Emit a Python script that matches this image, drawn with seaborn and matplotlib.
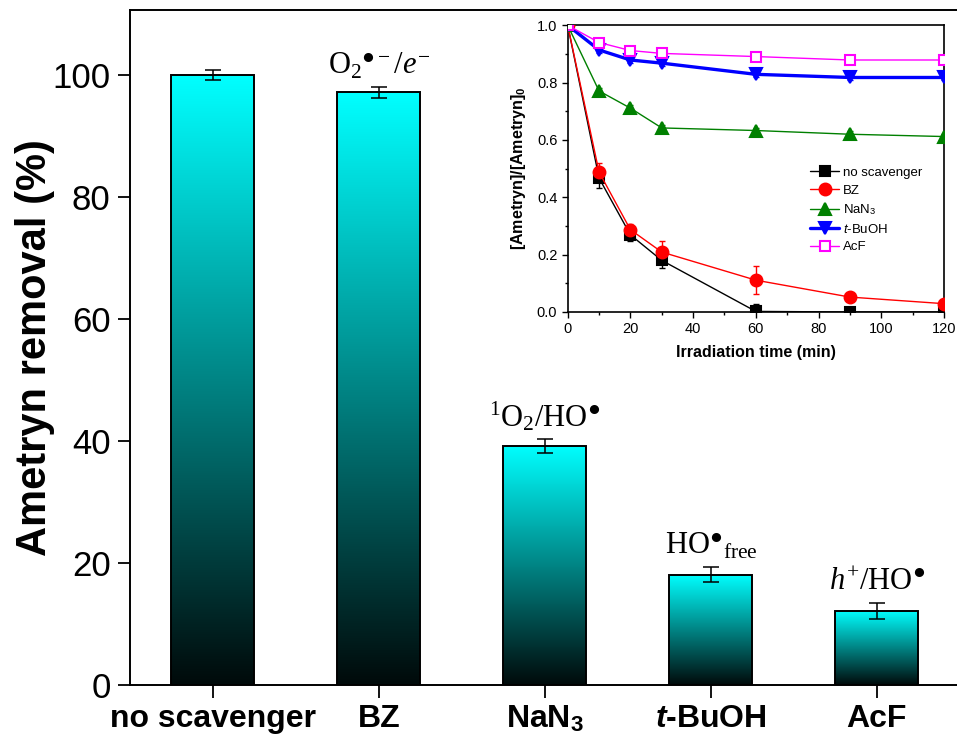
import numpy as np
import pandas as pd
import matplotlib
matplotlib.use("Agg")
import matplotlib.pyplot as plt
import seaborn as sns
from matplotlib.colors import LinearSegmentedColormap
from matplotlib.lines import Line2D
from matplotlib.ticker import MultipleLocator, FormatStrFormatter

# ---- main bar data: ametryn removal with each scavenger ----
categories = ["no scavenger", "BZ", "NaN3", "t-BuOH", "AcF"]
tick_labels = ["no scavenger", "BZ", r"NaN$_\mathbf{3}$", r"$\mathbfit{t}$-BuOH", "AcF"]
removal = [100.0, 97.2, 39.2, 18.1, 12.2]
removal_err = [0.8, 0.9, 1.2, 1.2, 1.3]
species = [
    None,
    r"O$_\mathrm{2}$$^\mathrm{●-}$/$e^{-}$",
    r"$^\mathrm{1}$O$_\mathrm{2}$/HO$^\mathrm{●}$",
    r"HO$^\mathrm{●}$$_\mathrm{free}$",
    r"$h^{+}$/HO$^\mathrm{●}$",
]

# ---- inset kinetics data ----
time_min = [0, 10, 20, 30, 60, 90, 120]
c_none = [1.0, 0.467, 0.269, 0.180, 0.002, 0.0, 0.0]
c_none_err = [0.0, 0.035, 0.02, 0.025, 0.025, 0.0, 0.0]
c_bz = [1.0, 0.488, 0.287, 0.209, 0.111, 0.052, 0.029]
c_bz_err = [0.0, 0.03, 0.02, 0.04, 0.05, 0.015, 0.01]
c_nan3 = [1.0, 0.771, 0.711, 0.642, 0.633, 0.620, 0.612]
c_nan3_err = [0.0, 0.01, 0.01, 0.01, 0.01, 0.01, 0.01]
c_tbuoh = [1.0, 0.914, 0.879, 0.868, 0.829, 0.818, 0.818]
c_tbuoh_err = [0.0, 0.01, 0.01, 0.01, 0.01, 0.01, 0.01]
c_acf = [1.0, 0.940, 0.912, 0.902, 0.891, 0.879, 0.879]
c_acf_err = [0.0, 0.01, 0.01, 0.01, 0.01, 0.01, 0.01]
legend_labels = ["no scavenger", "BZ", r"NaN$_\mathsf{3}$", r"$\mathcal{t}$-BuOH", "AcF"]

sns.set_theme(style="ticks")
plt.rcParams["font.family"] = ["Liberation Sans", "DejaVu Sans"]
plt.rcParams["text.color"] = "black"
plt.rcParams["axes.labelcolor"] = "black"
plt.rcParams["xtick.color"] = "black"
plt.rcParams["ytick.color"] = "black"
plt.rcParams["mathtext.fontset"] = "custom"
plt.rcParams["mathtext.rm"] = "Liberation Serif"
plt.rcParams["mathtext.it"] = "Liberation Serif:italic"
plt.rcParams["mathtext.bf"] = "Liberation Sans:bold"
plt.rcParams["mathtext.bfit"] = "Liberation Sans:bold:italic"
plt.rcParams["mathtext.sf"] = "Liberation Sans"
plt.rcParams["mathtext.cal"] = "Liberation Sans:italic"

fig = plt.figure(figsize=(9.57, 7.4), dpi=100)
ax = fig.add_axes([0.1358, 0.0743, 0.8672, 0.9122])

df = pd.DataFrame({"scavenger": categories, "removal": removal})
sns.barplot(data=df, x="scavenger", y="removal", color="#00ffff", width=0.5,
            edgecolor="black", linewidth=1.4, errorbar=None, ax=ax, zorder=2)

# vertical black-to-cyan gradient inside every bar
cmap = LinearSegmentedColormap.from_list("bar_grad", ["#000a0a", "#00ffff"])
grad = np.linspace(0, 1, 256).reshape(-1, 1)
for patch in ax.patches:
    x0, y0 = patch.get_x(), patch.get_y()
    w, h = patch.get_width(), patch.get_height()
    im = ax.imshow(grad, cmap=cmap, extent=[x0, x0 + w, y0, y0 + h],
                   origin="lower", aspect="auto", zorder=1.5)
    im.set_clip_path(patch)
    patch.set_facecolor("none")

ax.errorbar(range(len(categories)), removal, yerr=removal_err, fmt="none",
            ecolor="black", elinewidth=1.1, capsize=6, capthick=1.1, zorder=3)

for i, (val, err, lab) in enumerate(zip(removal, removal_err, species)):
    if lab is None:
        continue
    ax.annotate(lab, xy=(i, val + err), xytext=(0, 9), textcoords="offset points",
                ha="center", va="baseline", fontsize=22, family="Liberation Serif")

ax.set_xlim(-0.5, 4.5)
ax.set_ylim(0, 110.7)
ax.yaxis.set_major_locator(MultipleLocator(20))
ax.set_xticks(range(len(categories)))
ax.set_xticklabels(tick_labels, fontsize=23, fontweight="bold")
ax.tick_params(axis="y", labelsize=25, length=9, width=1.3, pad=5, direction="out")
ax.tick_params(axis="x", length=9, width=1.3, pad=5, direction="out")
ax.set_xlabel("")
ax.set_ylabel("Ametryn removal (%)", fontsize=30, fontweight="bold", labelpad=-2)
for side in ["left", "bottom", "top", "right"]:
    ax.spines[side].set_visible(True)
    ax.spines[side].set_linewidth(1.4)
    ax.spines[side].set_color("black")

# ---- inset: concentration decay over irradiation time ----
ins = fig.add_axes([0.5932, 0.5784, 0.3932, 0.3874])
series = [
    (c_none, c_none_err, "black", "s", 6.5, 1.0, "black"),
    (c_bz, c_bz_err, "red", "o", 8.5, 1.0, "red"),
    (c_nan3, c_nan3_err, "green", "^", 8.5, 1.0, "green"),
    (c_tbuoh, c_tbuoh_err, "blue", "v", 8.5, 2.4, "blue"),
    (c_acf, c_acf_err, "magenta", "s", 6.5, 1.0, "white"),
]
handles = []
for (vals, errs, col, mk, ms, lw, fc), lab in zip(series, legend_labels):
    sns.lineplot(x=time_min, y=vals, color=col, linewidth=lw, marker=mk,
                 markersize=ms, markerfacecolor=fc, markeredgecolor=col,
                 markeredgewidth=1.5, ax=ins, zorder=3)
    ins.errorbar(time_min, vals, yerr=errs, fmt="none", ecolor=col,
                 elinewidth=1.0, capsize=2.5, capthick=1.0, zorder=2)
    handles.append(Line2D([0], [0], color=col, linewidth=lw, marker=mk,
                          markersize=ms, markerfacecolor=fc, markeredgecolor=col,
                          markeredgewidth=1.5, label=lab))

ins.set_xlim(0, 120)
ins.set_ylim(0, 1.0)
ins.xaxis.set_major_locator(MultipleLocator(20))
ins.xaxis.set_minor_locator(MultipleLocator(10))
ins.yaxis.set_major_locator(MultipleLocator(0.2))
ins.yaxis.set_minor_locator(MultipleLocator(0.1))
ins.yaxis.set_major_formatter(FormatStrFormatter("%.1f"))
ins.tick_params(which="major", length=4.5, width=1.0, labelsize=10.5, pad=3, direction="out")
ins.tick_params(which="minor", length=2.5, width=1.0, direction="out")
ins.set_xlabel("Irradiation time (min)", fontsize=11.5, fontweight="bold", labelpad=6)
ins.set_ylabel(r"[Ametryn]/[Ametryn]$_\mathbf{0}$", fontsize=11.5, fontweight="bold", labelpad=6)
for side in ["left", "bottom", "top", "right"]:
    ins.spines[side].set_visible(True)
    ins.spines[side].set_linewidth(1.2)
    ins.spines[side].set_color("black")

ins.legend(handles=handles, loc="upper left", bbox_to_anchor=(0.63, 0.525),
           frameon=False, fontsize=9.5, handlelength=2.2, handletextpad=0.3,
           labelspacing=0.42, borderaxespad=0.0)

fig.savefig("out.png", dpi=100)
